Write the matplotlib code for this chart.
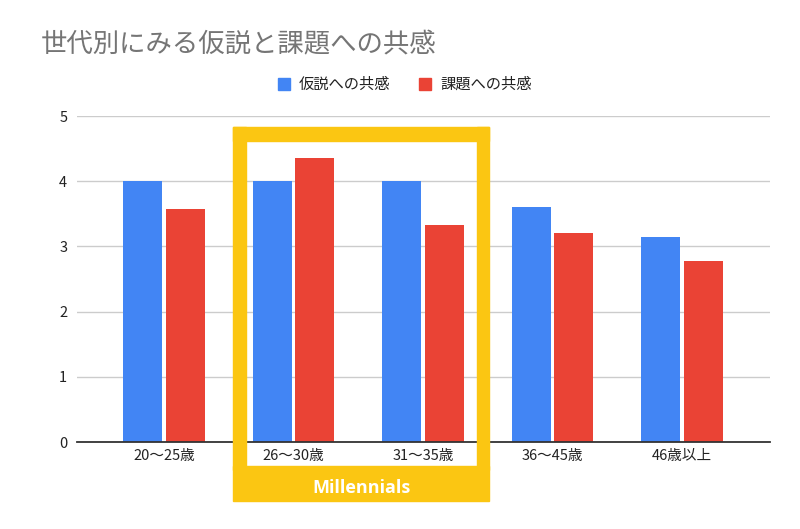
import matplotlib
matplotlib.use("Agg")
import matplotlib.pyplot as plt
from matplotlib.patches import Rectangle
import numpy as np

plt.rcParams['font.family'] = ['Noto Sans CJK JP', 'DejaVu Sans']

categories = ["20〜25歳", "26〜30歳", "31〜35歳", "36〜45歳", "46歳以上"]
hypothesis = [4.0, 4.0, 4.0, 3.61, 3.15]
problem = [3.57, 4.36, 3.33, 3.21, 2.77]
series_names = ["仮説への共感", "課題への共感"]
yticks = [0, 1, 2, 3, 4, 5]
title = "世代別にみる仮説と課題への共感"
highlight_label = "Millennials"

BLUE = "#4285F4"
RED = "#EA4335"
YELLOW = "#FBC612"

W, H = 800, 529
fig = plt.figure(figsize=(W / 100, H / 100), dpi=100)

def fx(px):
    return px / W

def fy(py):
    return 1 - py / H

ax = fig.add_axes([fx(77), fy(442), fx(770) - fx(77), fy(116) - fy(442)])
x = np.arange(len(categories))
bw = 0.30
ax.bar(x - 0.164, hypothesis, bw, color=BLUE, zorder=3)
ax.bar(x + 0.164, problem, bw, color=RED, zorder=3)

ax.set_xlim(-0.672, 4.68)
ax.set_ylim(0, 5)
ax.set_yticks(yticks)
ax.set_yticklabels([str(t) for t in yticks])
ax.set_xticks(x)
ax.set_xticklabels(categories)
ax.tick_params(axis='both', length=0, labelsize=10.5, colors='#222222')
ax.tick_params(axis='y', pad=7)
ax.tick_params(axis='x', pad=5)
ax.grid(axis='y', color='#CCCCCC', linewidth=1, zorder=0)
for s in ['top', 'right', 'left']:
    ax.spines[s].set_visible(False)
ax.spines['bottom'].set_color('#333333')
ax.spines['bottom'].set_linewidth(1.3)
ax.spines['bottom'].set_zorder(4)

# Title
fig.text(fx(41), fy(45), title, fontsize=19, color='#757575', va='center', ha='left')

# Legend (manual)
for px, col, name in [(278, BLUE, series_names[0]), (419, RED, series_names[1])]:
    fig.patches.append(Rectangle((fx(px), fy(90)), fx(12), fy(78) - fy(90),
                                 transform=fig.transFigure, color=col))
    fig.text(fx(px + 21), fy(84), name, fontsize=11, color='#222222', va='center', ha='left')

# Yellow highlight frame
rects = [
    (233, 127, 489, 141),   # top
    (233, 127, 246, 470),   # left
    (477, 127, 489, 470),   # right
    (233, 466, 489, 501),   # bottom band
]
for x0, y0, x1, y1 in rects:
    fig.patches.append(Rectangle((fx(x0), fy(y1)), fx(x1) - fx(x0), fy(y0) - fy(y1),
                                 transform=fig.transFigure, color=YELLOW, zorder=10))
fig.text(fx(361), fy(488), highlight_label, fontsize=13, color='white', fontweight='bold',
         family=['Open Sans', 'DejaVu Sans'], va='center', ha='center', zorder=11)

fig.savefig("out.png", dpi=100, facecolor='white')
